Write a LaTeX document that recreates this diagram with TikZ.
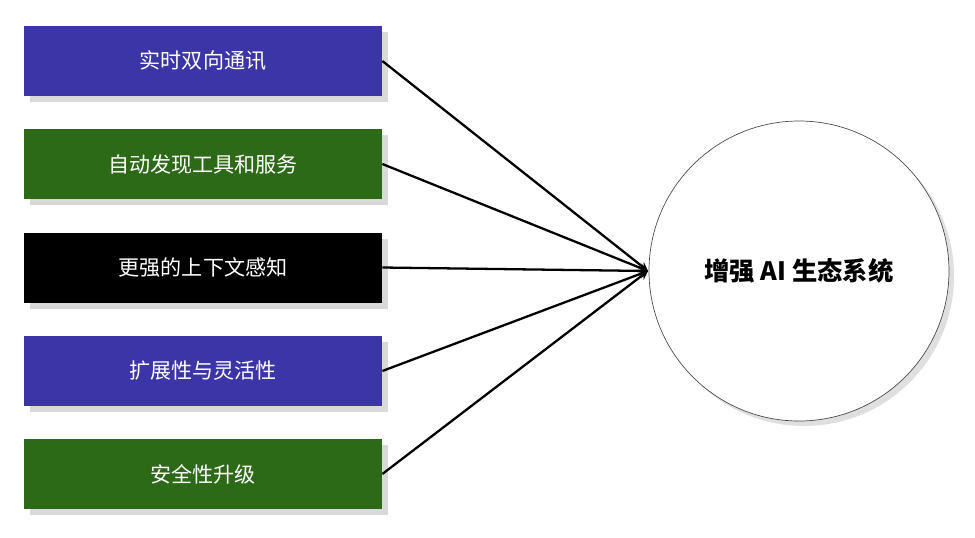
\documentclass[tikz,border=0pt]{standalone}
\usepackage{fontspec}
\newfontfamily\cjk{Noto Sans CJK SC}
\newfontfamily\cjkm{Noto Sans CJK SC Medium}
\usetikzlibrary{shadows,arrows.meta}
\definecolor{bblue}{HTML}{3C35A8}
\definecolor{bgreen}{HTML}{2D6A18}
\tikzset{
 boxnode/.style={minimum width=7.16cm,minimum height=1.4cm,text=white,font=\cjk\large,inner sep=0pt,
   drop shadow={shadow xshift=0.12cm,shadow yshift=-0.12cm,opacity=0.3}},
 link/.style={line width=1.3pt,-{Stealth[length=5pt,width=5pt]}}
}
\begin{document}
\begin{tikzpicture}
\useasboundingbox (0,0) rectangle (19.5,-10.76);
\node[boxnode,fill=bblue] (a) at (4.06,-1.22) {实时双向通讯};
\node[boxnode,fill=bgreen] (b) at (4.06,-3.28) {自动发现工具和服务};
\node[boxnode,fill=black] (c) at (4.06,-5.35) {更强的上下文感知};
\node[boxnode,fill=bblue] (d) at (4.06,-7.42) {扩展性与灵活性};
\node[boxnode,fill=bgreen] (e) at (4.06,-9.48) {安全性升级};
\node[circle,draw=black!70,fill=white,minimum size=6cm,inner sep=0pt,font=\cjk\Large\bfseries,
  drop shadow={shadow xshift=0.1cm,shadow yshift=-0.1cm,opacity=0.25}] (h) at (15.98,-5.42) {增强 AI 生态系统};
\coordinate (t) at (12.96,-5.42);
\foreach \n in {a,b,c,d,e} \draw[link] (\n.east) -- (t);
\end{tikzpicture}
\end{document}
